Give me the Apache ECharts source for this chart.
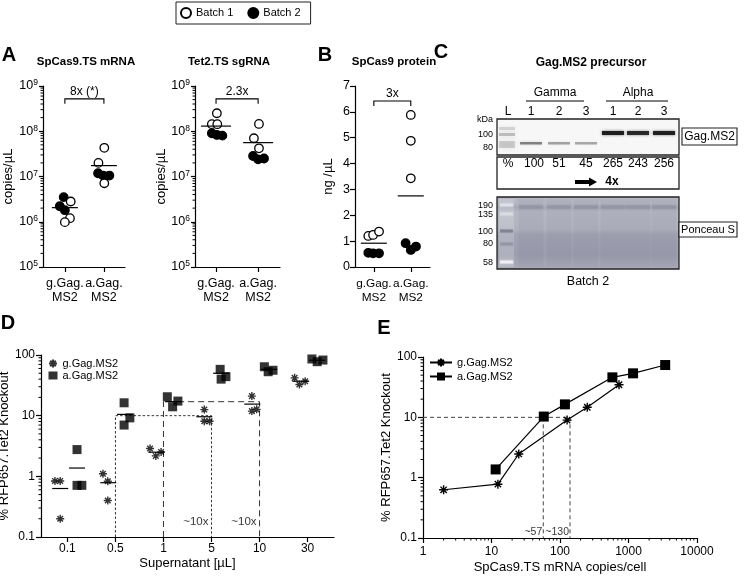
<!DOCTYPE html>
<html><head><meta charset="utf-8">
<script src="https://cdn.jsdelivr.net/npm/echarts@6/dist/echarts.min.js"></script>
<style>html,body{margin:0;padding:0;background:#fff}#c{width:747px;height:577px}</style>
</head><body><div id="c"></div>
<script>
// ---------------- DATA ----------------
const groups = ['g.Gag.\nMS2', 'a.Gag.\nMS2'];
const groupIdx = [0, 0, 0, 1, 1, 1];
// Panel A (left) SpCas9.TS mRNA copies/µL
const mrnaBatch1 = [2.8e6, 1.2e6, 0.98e6, 4.3e7, 2.0e7, 7.1e6];
const mrnaBatch2 = [3.5e6, 2.2e6, 1.8e6, 1.18e7, 1.05e7, 1.05e7];
const mrnaMean = [2.05e6, 1.74e7];
const mrnaFold = '8x (*)';
// Panel A (right) Tet2.TS sgRNA copies/µL
const sgBatch1 = [2.5e8, 1.43e8, 1.43e8, 1.45e8, 7.0e7, 4.2e7];
const sgBatch2 = [9.0e7, 8.3e7, 8.0e7, 2.84e7, 2.4e7, 2.5e7];
const sgMean = [1.3e8, 5.6e7];
const sgFold = '2.3x';
// Panel B SpCas9 protein ng/µL
const protBatch1 = [1.2, 1.24, 1.37, 5.88, 4.88, 3.43];
const protBatch2 = [0.55, 0.53, 0.53, 0.92, 0.66, 0.79];
const protMean = [0.92, 2.75];
const protFold = '3x';
// Panel C western blot quantification (Batch 2)
const laneGroups = ['Gamma', 'Alpha'];
const laneNames = ['1', '2', '3', '1', '2', '3'];
const lanePct = [100, 51, 45, 265, 243, 256];
const blotFold = '4x';
const kdaTop = ['100', '80'];
const kdaPonceau = ['190', '135', '100', '80', '58'];
// Panel D % RFP657.Tet2 knockout vs supernatant volume
const supernatant = ['0.1', '0.5', '1', '5', '10', '30'];
const koG = [[0.84, 0.84, 0.2], [1.1, 0.83, 0.40], [2.87, 2.17, 2.52], [12.6, 8.1, 8.1], [21, 11.9, 12.7], [42, 32.7, 37]];
const koA = [[2.76, 0.71, 0.71], [16.3, 7.0, 9.2], [20.5, 14.0, 17.4], [58, 40, 44], [64, 53, 56], [86, 77.6, 82.6]];
const koGMean = [0.63, 0.785, 2.5, 9.6, 15.5, 37];
const koAMean = [1.37, 10.5, 17, 50, 58, 82];
// Panel E knockout vs mRNA copies/cell
const eGcopies = [2, 12.4, 25, 127, 250, 727];
const eGko = [0.63, 0.78, 2.47, 9.0, 14.7, 34.7];
const eAcopies = [11.5, 58, 118, 582, 1166, 3433];
const eAko = [1.37, 10.3, 16.4, 46, 53.6, 73.6];
const eRef = [57, 140];

// ---------------- LAYOUT (jitter offsets, not data) ----------------
const jitMrna1 = [0.15, 0.13, 0.0, 0.01, -0.14, 0.01];
const jitMrna2 = [-0.03, -0.13, 0.0, -0.15, -0.02, 0.14];
const jitSg1 = [0.02, -0.1, 0.03, 0.02, -0.1, 0.02];
const jitSg2 = [-0.1, 0.02, 0.15, -0.12, 0.0, 0.14];
const jitProt1 = [-0.15, -0.02, 0.14, 0, 0, 0];
const jitProt2 = [-0.15, -0.02, 0.14, -0.14, 0, 0.14];
const jitG = [[-0.26, -0.15, -0.15], [-0.26, -0.16, -0.16], [-0.28, -0.16, -0.05], [-0.15, -0.15, -0.04], [-0.16, -0.16, -0.06], [-0.27, -0.17, -0.05]];
const jitA = [[0.2, 0.2, 0.3], [0.18, 0.18, 0.3], [0.08, 0.19, 0.3], [0.18, 0.2, 0.3], [0.1, 0.18, 0.28], [0.09, 0.2, 0.32]];

const FONT = '"Liberation Sans", Arial, Helvetica, sans-serif';
const ASTER = 'path://M10 0L10 20M0 10L20 10M3 3L17 17M17 3L3 17';

function pts(vals, jit) { return vals.map((v, i) => [groupIdx[i] + jit[i], v]); }
function merge(a, b) {
  const o = Array.isArray(a) ? a.slice() : Object.assign({}, a);
  for (const k in b) {
    if (b[k] && typeof b[k] === 'object' && !Array.isArray(b[k]) && a[k] && typeof a[k] === 'object') o[k] = merge(a[k], b[k]);
    else o[k] = b[k];
  }
  return o;
}
const axisBase = {
  axisLine: { show: true, onZero: false, lineStyle: { color: '#000', width: 1.2 } },
  axisTick: { show: true, length: 4, lineStyle: { color: '#000', width: 1.2 } },
  splitLine: { show: false },
  axisLabel: { color: '#000', fontFamily: FONT, fontSize: 12, showMinLabel: true, showMaxLabel: true, hideOverlap: false },
  nameTextStyle: { color: '#000', fontFamily: FONT, fontSize: 13 }
};
function catX(grid, min, max, fs) {
  return merge(axisBase, {
    gridIndex: grid, type: 'value', min: min, max: max,
    axisTick: { customValues: [0, 1], length: 5 },
    axisLabel: { customValues: [0, 1], formatter: v => groups[Math.round(v)], fontSize: fs || 12.5, lineHeight: 14, margin: 10 }
  });
}
const powRich = { b: { fontSize: 12.5, fontFamily: FONT, color: '#000' }, s: { fontSize: 8.5, fontFamily: FONT, color: '#000', verticalAlign: 'top', padding: [0, 0, 6, 0] } };
function logY(grid) {
  return merge(axisBase, {
    gridIndex: grid, type: 'log', logBase: 10, min: 1e5, max: 1e9,
    name: 'copies/µL', nameLocation: 'middle', nameGap: 28, nameRotate: 90,
    axisLabel: { formatter: v => '{b|10}{s|' + Math.round(Math.log10(v)) + '}', rich: powRich, margin: 5 }
  });
}
function minorVals(lo, hi) { const r = []; for (let e = lo; e < hi; e++) for (let k = 2; k <= 9; k++) r.push(k * Math.pow(10, e)); return r; }
function minorTicks(xi, yi, vals, dir, anchor) {
  return {
    type: 'custom', xAxisIndex: xi, yAxisIndex: yi, silent: true, clip: false, z: 1,
    data: vals.map(v => dir === 'y' ? [anchor, v] : [v, anchor]), encode: { x: 0, y: 1 },
    renderItem: (p, api) => {
      const c = api.coord([api.value(0), api.value(1)]);
      return { type: 'line', shape: dir === 'y' ? { x1: c[0] - 2.5, y1: c[1], x2: c[0], y2: c[1] } : { x1: c[0], y1: c[1], x2: c[0], y2: c[1] + 2.5 }, style: { stroke: '#000', lineWidth: 1 } };
    }
  };
}
function meanLines(xi, yi, data, half) {
  return {
    type: 'custom', xAxisIndex: xi, yAxisIndex: yi, silent: true, z: 4, data: data, encode: { x: 0, y: 1 },
    renderItem: (p, api) => {
      const c = api.coord([api.value(0), api.value(1)]);
      return { type: 'line', shape: { x1: c[0] - half, y1: c[1], x2: c[0] + half, y2: c[1] }, style: { stroke: '#000', lineWidth: 1.2 } };
    }
  };
}
function bracket(xi, yi, yv, label) {
  return {
    type: 'custom', xAxisIndex: xi, yAxisIndex: yi, silent: true, clip: false, data: [[0, 1, yv]], encode: { x: [0, 1], y: 2 },
    renderItem: (p, api) => {
      const a = api.coord([api.value(0), api.value(2)]), b = api.coord([api.value(1), api.value(2)]);
      return { type: 'group', children: [
        { type: 'polyline', shape: { points: [[a[0], a[1] + 5], a, b, [b[0], b[1] + 5]] }, style: { stroke: '#000', fill: null, lineWidth: 1.1 } },
        { type: 'text', x: (a[0] + b[0]) / 2, y: a[1] - 1.5, style: { text: label, font: '12px ' + FONT, fill: '#000', align: 'center', verticalAlign: 'bottom', textAlign: 'center', textVerticalAlign: 'bottom' } }
      ] };
    }
  };
}
function batchSeries(name, xi, yi, data) {
  const open = name === 'Batch 1';
  return { name: name, type: 'scatter', xAxisIndex: xi, yAxisIndex: yi, data: data, symbol: 'circle', symbolSize: 8.5, z: open ? 3 : 2,
    itemStyle: { color: open ? '#fff' : '#000', borderColor: '#000', borderWidth: 1.3, opacity: 1 } };
}

// D points
const dG = [], dA = [];
koG.forEach((arr, i) => arr.forEach((v, j) => dG.push([i + jitG[i][j], v])));
koA.forEach((arr, i) => arr.forEach((v, j) => dA.push([i + jitA[i][j], v])));

// ---------------- GRAPHIC (panel letters, titles, blot) ----------------
const G = [];
function T(x, y, text, size, opt) {
  opt = opt || {};
  const al = opt.align || 'center';
  G.push({ type: 'text', silent: true, z: 20, style: { text: text, x: x, y: y, fill: opt.fill || '#000', font: (opt.bold ? 'bold ' : '') + size + 'px ' + FONT, align: al, textAlign: al, verticalAlign: 'middle', textVerticalAlign: 'middle' } });
}
function R(x, y, w, h, style, z) { G.push({ type: 'rect', silent: true, z: z || 10, shape: { x: x, y: y, width: w, height: h }, style: style }); }
function L(x1, y1, x2, y2, w, c, z) { G.push({ type: 'line', silent: true, z: z || 12, shape: { x1: x1, y1: y1, x2: x2, y2: y2 }, style: { stroke: c || '#000', lineWidth: w || 1 } }); }

T(9, 55, 'A', 20, { bold: true });
T(325, 55, 'B', 20, { bold: true });
T(441, 52, 'C', 20, { bold: true });
T(8, 323, 'D', 20, { bold: true });
T(384, 328, 'E', 20, { bold: true });
T(86, 62, 'SpCas9.TS mRNA', 11.5, { bold: true });
T(229, 62, 'Tet2.TS sgRNA', 11.5, { bold: true });
T(394, 62, 'SpCas9 protein', 11.5, { bold: true });
T(591, 63, 'Gag.MS2 precursor', 12, { bold: true });

// Blot
const laneX = [531, 559, 586, 613, 638, 664];
T(555, 93, laneGroups[0], 12); L(526, 101, 584, 101, 1);
T(638, 93, laneGroups[1], 12); L(606, 101, 668, 101, 1);
T(508, 112, 'L', 12);
laneNames.forEach((n, i) => T(laneX[i], 112, n, 12));
T(493, 120, 'kDa', 9, { align: 'right' });
T(493, 135, kdaTop[0], 9, { align: 'right' });
T(493, 148, kdaTop[1], 9, { align: 'right' });
// top gel
R(497, 119, 182, 36, { fill: '#f7f7f7', stroke: '#222', lineWidth: 1.3 }, 10);
R(499, 127, 16, 3, { fill: 'rgba(120,120,120,0.25)', shadowBlur: 4, shadowColor: 'rgba(120,120,120,0.5)' }, 11);
R(499, 133, 16, 3, { fill: 'rgba(100,100,100,0.35)', shadowBlur: 4, shadowColor: 'rgba(100,100,100,0.5)' }, 11);
R(499, 141, 16, 7, { fill: 'rgba(120,120,120,0.3)', shadowBlur: 5, shadowColor: 'rgba(120,120,120,0.5)' }, 11);
lanePct.forEach((p, i) => {
  const op = 0.2 + 0.72 * Math.min(p, 265) / 265;
  const y = i < 3 ? 142 : 131;
  const h = i < 3 ? 2.5 : 4;
  R(laneX[i] - 11, y, 22, h, { fill: 'rgba(20,20,20,' + op.toFixed(2) + ')', shadowBlur: 3, shadowColor: 'rgba(40,40,40,' + (op * 0.8).toFixed(2) + ')' }, 11);
});
R(682, 128, 55, 17, { fill: '#fff', stroke: '#222', lineWidth: 1.1 }, 10);
T(709.5, 136.5, 'Gag.MS2', 12);
// quant box
R(497, 157, 182, 32, { fill: '#fff', stroke: '#222', lineWidth: 1.3 }, 10);
T(508, 164, '%', 12);
lanePct.forEach((p, i) => T(laneX[i] + (i === 0 ? 3 : 0), 164, String(p), 12));
L(575, 182, 590, 182, 4, '#000');
G.push({ type: 'polygon', silent: true, z: 12, shape: { points: [[589, 177.5], [597, 182], [589, 186.5]] }, style: { fill: '#000' } });
T(612, 182, blotFold, 12, { bold: true });
// Ponceau gel
R(497, 197, 182, 72, { fill: { type: 'linear', x: 0, y: 0, x2: 0, y2: 1, colorStops: [
  { offset: 0, color: '#b9bbc6' }, { offset: 0.1, color: '#b3b5c1' }, { offset: 0.15, color: '#a6a8b6' }, { offset: 0.21, color: '#b5b7c3' },
  { offset: 0.45, color: '#b0b2be' }, { offset: 0.52, color: '#a2a4b3' }, { offset: 0.8, color: '#9c9eae' }, { offset: 1, color: '#abadba' }] },
  stroke: '#222', lineWidth: 1.3 }, 10);
laneX.forEach(x => R(x - 12.5, 199, 25, 68, { fill: 'rgba(70,70,95,0.06)' }, 11));
laneX.forEach(x => R(x - 12, 205, 24, 4, { fill: 'rgba(70,70,95,0.12)', shadowBlur: 3, shadowColor: 'rgba(70,70,95,0.25)' }, 11));
R(499, 199, 15, 68, { fill: 'rgba(255,255,255,0.18)' }, 11);
[[205, 0.5, '#eeeef3'], [214, 0.5, '#e6e6ec'], [231, 0.5, '#6a6c7c'], [244, 0.35, '#7c7e8e'], [262, 0.8, '#f2f2f6']].forEach(m =>
  R(500, m[0] - 1.5, 13, 3, { fill: m[2], opacity: m[1], shadowBlur: 2, shadowColor: m[2] }, 12));
const kdaY = [206, 215, 232, 244, 263];
kdaPonceau.forEach((k, i) => T(493, kdaY[i], k, 9, { align: 'right' }));
R(679, 222, 58, 15, { fill: '#fff', stroke: '#222', lineWidth: 1.1 }, 10);
T(708, 229.5, 'Ponceau S', 11);
T(588, 282, 'Batch 2', 12.5);

// ---------------- OPTION ----------------
const option = {
  backgroundColor: '#fff',
  animation: false,
  textStyle: { fontFamily: FONT },
  legend: [
    { data: ['Batch 1', 'Batch 2'], left: 176, top: 2, itemWidth: 10, itemHeight: 10, itemGap: 14, padding: [5, 10, 5, 4],
      borderColor: '#222', borderWidth: 1, textStyle: { fontSize: 11, color: '#000', fontFamily: FONT }, selectedMode: false },
    { data: ['g.Gag.MS2', 'a.Gag.MS2'], orient: 'vertical', left: 48, top: 358, itemWidth: 9, itemHeight: 8, itemGap: 1, padding: 0,
      textStyle: { fontSize: 11, color: '#000', fontFamily: FONT, lineHeight: 9 }, selectedMode: false },
    { data: ['g.Gag.MS2 ', 'a.Gag.MS2 '], orient: 'vertical', left: 429, top: 357, itemWidth: 22, itemHeight: 10, itemGap: 3, padding: 0,
      textStyle: { fontSize: 11, color: '#000', fontFamily: FONT }, selectedMode: false }
  ],
  grid: [
    { left: 43, top: 86, width: 82, height: 181, outerBoundsMode: 'none' },
    { left: 195, top: 86, width: 85, height: 181, outerBoundsMode: 'none' },
    { left: 355, top: 86, width: 75, height: 181, outerBoundsMode: 'none' },
    { left: 41, top: 355, width: 293, height: 182, outerBoundsMode: 'none' },
    { left: 423, top: 357, width: 274, height: 181, outerBoundsMode: 'none' }
  ],
  xAxis: [
    catX(0, -0.56, 1.54),
    catX(1, -0.5, 1.52),
    catX(2, -0.51, 1.52, 11.8),
    merge(axisBase, { gridIndex: 3, type: 'value', min: -0.55, max: 5.55, name: 'Supernatant [µL]', nameLocation: 'middle', nameGap: 20,
      axisTick: { customValues: [0, 1, 2, 3, 4, 5], length: 5 },
      axisLabel: { customValues: [0, 1, 2, 3, 4, 5], formatter: v => supernatant[Math.round(v)], margin: 6 } }),
    merge(axisBase, { gridIndex: 4, type: 'log', logBase: 10, min: 1, max: 10000, name: 'SpCas9.TS mRNA copies/cell', nameLocation: 'middle', nameGap: 23,
      axisTick: { length: 5 }, axisLabel: { margin: 8, formatter: v => String(Math.round(v)) } })
  ],
  yAxis: [
    logY(0),
    merge(logY(1), { nameGap: 25 }),
    merge(axisBase, { gridIndex: 2, type: 'value', min: 0, max: 7, interval: 1, name: 'ng /µL', nameLocation: 'middle', nameGap: 20, nameRotate: 90,
      axisTick: { length: 5 }, axisLabel: { fontSize: 12.5, margin: 5 } }),
    merge(axisBase, { gridIndex: 3, type: 'log', logBase: 10, min: 0.1, max: 100, name: '% RFP657.Tet2 Knockout', nameLocation: 'middle', nameGap: 26, nameRotate: 90,
      axisTick: { length: 5 }, axisLabel: { margin: 6 } }),
    merge(axisBase, { gridIndex: 4, type: 'log', logBase: 10, min: 0.1, max: 100, name: '% RFP657.Tet2 Knockout', nameLocation: 'middle', nameGap: 30, nameRotate: 90,
      axisTick: { length: 5 }, axisLabel: { margin: 6 } })
  ],
  series: [
    batchSeries('Batch 1', 0, 0, pts(mrnaBatch1, jitMrna1)),
    batchSeries('Batch 2', 0, 0, pts(mrnaBatch2, jitMrna2)),
    batchSeries('Batch 1', 1, 1, pts(sgBatch1, jitSg1)),
    batchSeries('Batch 2', 1, 1, pts(sgBatch2, jitSg2)),
    batchSeries('Batch 1', 2, 2, pts(protBatch1, jitProt1)),
    batchSeries('Batch 2', 2, 2, pts(protBatch2, jitProt2)),
    meanLines(0, 0, mrnaMean.map((m, i) => [i, m]), 13),
    meanLines(1, 1, sgMean.map((m, i) => [i, m]), 15),
    meanLines(2, 2, protMean.map((m, i) => [i, m]), 13),
    bracket(0, 0, 5.2e8, mrnaFold),
    bracket(1, 1, 5.2e8, sgFold),
    bracket(2, 2, 6.42, protFold),
    minorTicks(0, 0, minorVals(5, 9), 'y', -0.56),
    minorTicks(1, 1, minorVals(5, 9), 'y', -0.5),
    minorTicks(3, 3, minorVals(-1, 2), 'y', -0.55),
    minorTicks(4, 4, minorVals(-1, 2), 'y', 1),
    minorTicks(4, 4, minorVals(0, 4), 'x', 0.1),
    // Panel D
    { name: 'g.Gag.MS2', type: 'scatter', xAxisIndex: 3, yAxisIndex: 3, data: dG, symbol: ASTER, symbolSize: 8, z: 3,
      itemStyle: { color: '#000', borderColor: '#000', borderWidth: 1.4 } },
    { name: 'a.Gag.MS2', type: 'scatter', xAxisIndex: 3, yAxisIndex: 3, data: dA, symbol: 'rect', symbolSize: 9, z: 3,
      itemStyle: { color: '#000' } },
    meanLines(3, 3, koGMean.map((m, i) => [i - 0.15, m]), 8),
    meanLines(3, 3, koAMean.map((m, i) => [i + 0.2, m]), 8),
    { type: 'line', xAxisIndex: 3, yAxisIndex: 3, data: [[1, 0.1], [1, 10], [3, 10], [3, 0.1]], symbol: 'none', silent: true, z: 1,
      lineStyle: { color: '#333', width: 1, type: [2.5, 2] } },
    { type: 'line', xAxisIndex: 3, yAxisIndex: 3, data: [[2, 0.1], [2, 17], [4, 17], [4, 0.1]], symbol: 'none', silent: true, z: 1,
      lineStyle: { color: '#333', width: 1, type: [6, 4] } },
    { type: 'scatter', xAxisIndex: 3, yAxisIndex: 3, data: [[3, 0.18], [4, 0.18]], symbolSize: 0, silent: true,
      label: { show: true, formatter: '~10x', position: 'left', distance: 3, fontSize: 11.5, color: '#000', fontFamily: FONT } },
    // Panel E
    { name: 'g.Gag.MS2 ', type: 'line', xAxisIndex: 4, yAxisIndex: 4, data: eGcopies.map((c, i) => [c, eGko[i]]), symbol: ASTER, symbolSize: 9,
      lineStyle: { color: '#000', width: 1.2 }, itemStyle: { color: '#000', borderColor: '#000', borderWidth: 1.4 }, z: 3 },
    { name: 'a.Gag.MS2 ', type: 'line', xAxisIndex: 4, yAxisIndex: 4, data: eAcopies.map((c, i) => [c, eAko[i]]), symbol: 'rect', symbolSize: 10,
      lineStyle: { color: '#000', width: 1.2 }, itemStyle: { color: '#000' }, z: 3 },
    { type: 'line', xAxisIndex: 4, yAxisIndex: 4, data: [[1, 10], [eRef[1], 10], [eRef[1], 0.1]], symbol: 'none', silent: true, z: 1,
      lineStyle: { color: '#444', width: 1, type: [4, 3] } },
    { type: 'line', xAxisIndex: 4, yAxisIndex: 4, data: [[eRef[0], 10], [eRef[0], 0.1]], symbol: 'none', silent: true, z: 1,
      lineStyle: { color: '#444', width: 1, type: [4, 3] } },
    { type: 'scatter', xAxisIndex: 4, yAxisIndex: 4, data: [{ value: [eRef[0], 0.127], label: { formatter: '~57' } }, { value: [eRef[1], 0.127], label: { formatter: '~130' } }],
      symbolSize: 0, silent: true,
      label: { show: true, position: 'left', distance: 1, fontSize: 10.5, color: '#000', fontFamily: FONT } }
  ],
  graphic: G
};
const chart = echarts.init(document.getElementById('c'));
chart.setOption(option);
</script>
</body></html>
